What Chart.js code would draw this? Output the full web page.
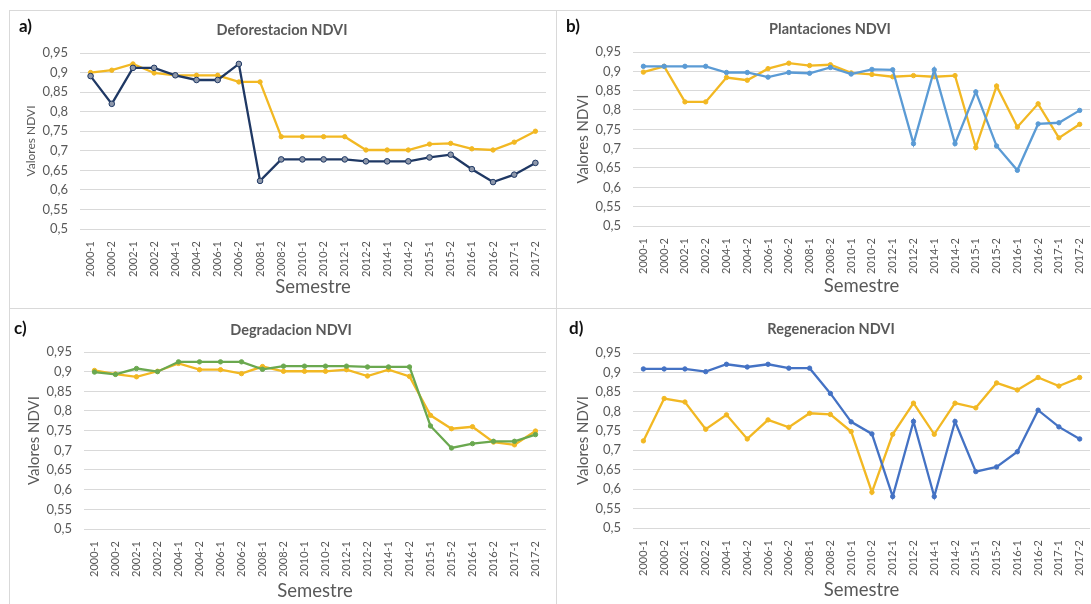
<!DOCTYPE html>
<html lang="es">
<head>
<meta charset="UTF-8">
<title>NDVI por semestre</title>
<script src="https://cdn.jsdelivr.net/npm/chart.js"></script>
<style>
    body {
        margin: 0;
        background: #fff;
        font-family: Lato, "Open Sans", sans-serif;
        width: 1091px;
        height: 604px;
        position: relative;
        overflow: hidden;
    }
    .panel {
        position: absolute;
        border: 1px solid #d9d9d9;
        box-sizing: border-box;
    }
    .panel canvas {
        position: absolute;
        left: 0;
        top: 0;
    }
    .letra {
        position: absolute;
        font-weight: bold;
        font-size: 17px;
        color: #111;
        line-height: 1;
    }
    .titulo {
        position: absolute;
        font-weight: bold;
        font-size: 14.5px;
        color: #595959;
        white-space: nowrap;
        transform: translate(-50%, -50%);
    }
</style>
</head>
<body>

<div class="panel" id="pa" style="left:9px;top:10px;width:548px;height:299px;"><canvas id="ca"></canvas></div>
<div class="panel" id="pb" style="left:556px;top:10px;width:540px;height:299px;"><canvas id="cb"></canvas></div>
<div class="panel" id="pc" style="left:9px;top:308px;width:548px;height:300px;"><canvas id="cc"></canvas></div>
<div class="panel" id="pd" style="left:556px;top:308px;width:540px;height:300px;"><canvas id="cd"></canvas></div>

<div class="letra" style="left:19px;top:17px;">a)</div>
<div class="letra" style="left:566px;top:17px;">b)</div>
<div class="letra" style="left:14px;top:319px;">c)</div>
<div class="letra" style="left:569px;top:319px;">d)</div>

<div class="titulo" style="left:282px;top:29px;">Deforestacion NDVI</div>
<div class="titulo" style="left:830px;top:28px;">Plantaciones NDVI</div>
<div class="titulo" style="left:291px;top:329px;">Degradacion NDVI</div>
<div class="titulo" style="left:831px;top:328px;">Regeneracion NDVI</div>

<script>
// categorias del eje x
const semestres = ["2000-1", "2000-2", "2002-1", "2002-2", "2004-1", "2004-2", "2006-1", "2006-2",
    "2008-1", "2008-2", "2010-1", "2010-2", "2012-1", "2012-2", "2014-1", "2014-2",
    "2015-1", "2015-2", "2016-1", "2016-2", "2017-1", "2017-2"];

// eje y
const yMin = 0.5;
const yMax = 0.95;
const yPaso = 0.05;

// a) Deforestacion
const deforestacionAmarillo = [0.900, 0.906, 0.922, 0.899, 0.893, 0.893, 0.893, 0.876, 0.876, 0.736, 0.736,
    0.736, 0.736, 0.702, 0.702, 0.702, 0.717, 0.719, 0.705, 0.702, 0.722, 0.750];
const deforestacionAzul = [0.891, 0.820, 0.912, 0.912, 0.893, 0.881, 0.881, 0.922, 0.623, 0.678, 0.678,
    0.678, 0.678, 0.673, 0.673, 0.673, 0.683, 0.690, 0.653, 0.620, 0.639, 0.669];

// b) Plantaciones
const plantacionesAzul = [0.913, 0.913, 0.913, 0.913, 0.897, 0.897, 0.885, 0.897, 0.895, 0.910, 0.893,
    0.905, 0.904, 0.713, 0.904, 0.713, 0.847, 0.707, 0.644, 0.764, 0.767, 0.799];
const plantacionesAmarillo = [0.898, 0.913, 0.821, 0.821, 0.884, 0.877, 0.907, 0.921, 0.915, 0.917, 0.896,
    0.892, 0.886, 0.889, 0.886, 0.889, 0.703, 0.862, 0.756, 0.816, 0.728, 0.763];

// c) Degradacion
const degradacionVerde = [0.899, 0.893, 0.908, 0.900, 0.925, 0.925, 0.925, 0.925, 0.906, 0.914, 0.914,
    0.914, 0.914, 0.912, 0.912, 0.912, 0.762, 0.706, 0.717, 0.723, 0.723, 0.740];
const degradacionAmarillo = [0.903, 0.894, 0.887, 0.901, 0.921, 0.905, 0.905, 0.895, 0.913, 0.901, 0.901,
    0.901, 0.905, 0.889, 0.905, 0.888, 0.789, 0.755, 0.760, 0.721, 0.714, 0.749];

// d) Regeneracion
const regeneracionAzul = [0.909, 0.909, 0.909, 0.902, 0.921, 0.914, 0.921, 0.911, 0.911, 0.846, 0.773,
    0.742, 0.581, 0.774, 0.581, 0.774, 0.645, 0.657, 0.696, 0.803, 0.760, 0.729];
const regeneracionAmarillo = [0.724, 0.833, 0.824, 0.754, 0.791, 0.729, 0.778, 0.759, 0.795, 0.792, 0.748,
    0.592, 0.741, 0.821, 0.741, 0.821, 0.809, 0.873, 0.855, 0.887, 0.865, 0.887];

const AMARILLO = '#f2b823';
const GRIS = '#595959';

function serie(datos, color, relleno, radio) {
    return {
        data: datos,
        borderColor: color,
        backgroundColor: relleno || color,
        pointBackgroundColor: relleno || color,
        pointBorderColor: color,
        pointBorderWidth: 1,
        pointRadius: radio || 2.2,
        borderWidth: 2.3,
        tension: 0
    };
}

// caja: left, top, right, bottom del area de trazado dentro del panel
function crearGrafico(canvasId, panelId, caja, series, yTitulo) {
    const panel = document.getElementById(panelId);
    const w = panel.offsetWidth;
    const h = panel.offsetHeight;
    const canvas = document.getElementById(canvasId);
    canvas.width = w;
    canvas.height = h;

    new Chart(canvas, {
        type: 'line',
        data: { labels: semestres, datasets: series },
        options: {
            responsive: false,
            animation: false,
            layout: { padding: { left: 0, top: caja.top, right: w - caja.right, bottom: 0 } },
            plugins: { legend: { display: false }, tooltip: { enabled: false } },
            scales: {
                x: {
                    offset: true,
                    grid: { display: false },
                    border: { display: false },
                    ticks: {
                        color: GRIS,
                        font: { family: 'Lato', size: 11 },
                        minRotation: 90,
                        maxRotation: 90,
                        autoSkip: false,
                        padding: 4
                    },
                    title: {
                        display: true,
                        text: 'Semestre',
                        color: GRIS,
                        font: { family: 'Lato', size: 18.5 },
                        padding: { top: 0, bottom: caja.semestre }
                    },
                    afterFit: function (scale) { scale.height = h - caja.bottom; }
                },
                y: {
                    min: yMin,
                    max: yMax,
                    grid: { color: '#d9d9d9', drawTicks: false, lineWidth: 1 },
                    border: { display: false },
                    ticks: {
                        stepSize: yPaso,
                        color: GRIS,
                        font: { family: 'Lato', size: 13 },
                        padding: 12,
                        callback: function (v) {
                            return v.toFixed(2).replace(/0$/, '').replace('.', ',');
                        }
                    },
                    title: {
                        display: true,
                        text: 'Valores NDVI',
                        color: GRIS,
                        font: { family: 'Lato', size: yTitulo.size },
                        padding: { top: yTitulo.pos, bottom: 0 }
                    },
                    afterFit: function (scale) { scale.width = caja.left; }
                }
            }
        }
    });
}

crearGrafico('ca', 'pa', { left: 70, top: 42, right: 536, bottom: 218, semestre: 12 }, [
    serie(deforestacionAzul, '#1f3864', '#8d97aa', 2.8),
    serie(deforestacionAmarillo, AMARILLO)
], { size: 12, pos: 14 });

crearGrafico('cb', 'pb', { left: 76, top: 41, right: 536, bottom: 215, semestre: 13 }, [
    serie(plantacionesAzul, '#5b9bd5'),
    serie(plantacionesAmarillo, AMARILLO)
], { size: 15, pos: 17 });

crearGrafico('cc', 'pc', { left: 74, top: 43, right: 536, bottom: 220, semestre: 7 }, [
    serie(degradacionVerde, '#6aa84f'),
    serie(degradacionAmarillo, AMARILLO)
], { size: 15, pos: 15 });

crearGrafico('cd', 'pd', { left: 76, top: 44, right: 537, bottom: 219, semestre: 8 }, [
    serie(regeneracionAzul, '#4472c4'),
    serie(regeneracionAmarillo, AMARILLO)
], { size: 15, pos: 17 });
</script>
</body>
</html>
